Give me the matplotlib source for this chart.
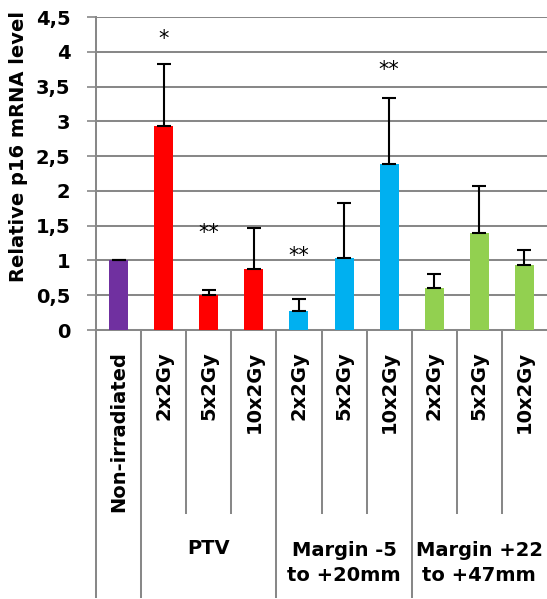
import matplotlib
matplotlib.use("Agg")
import matplotlib.pyplot as plt

# ---- data ----
categories = ["Non-irradiated", "2x2Gy", "5x2Gy", "10x2Gy", "2x2Gy", "5x2Gy", "10x2Gy", "2x2Gy", "5x2Gy", "10x2Gy"]
groups = ["PTV", "Margin -5\nto +20mm", "Margin +22\nto +47mm"]
group_members = [[1, 2, 3], [4, 5, 6], [7, 8, 9]]
values = [1.0, 2.93, 0.50, 0.88, 0.27, 1.03, 2.38, 0.60, 1.39, 0.93]
err_top = [1.0, 3.82, 0.57, 1.47, 0.45, 1.82, 3.34, 0.81, 2.07, 1.15]
colors = ["#7030A0", "#FF0000", "#FF0000", "#FF0000", "#00B0F0", "#00B0F0", "#00B0F0",
          "#92D050", "#92D050", "#92D050"]
stars = {1: "*", 2: "**", 4: "**", 6: "**"}
star_y = {1: 4.18, 2: 1.39, 4: 1.06, 6: 3.74}
yticks = [0, 0.5, 1, 1.5, 2, 2.5, 3, 3.5, 4, 4.5]
ytick_labels = ["0", "0,5", "1", "1,5", "2", "2,5", "3", "3,5", "4", "4,5"]
ylabel = "Relative p16 mRNA level"

FONT = ["DejaVu Sans"]
FS = 14
GRID = "#888888"
W, H = 547, 599

fig = plt.figure(figsize=(W / 100, H / 100), dpi=100)
x0, x1, ytop, ybot = 96, 547, 17, 330
ax = fig.add_axes([x0 / W, 1 - ybot / H, (x1 - x0) / W, (ybot - ytop) / H])

x = list(range(len(categories)))
ax.bar(x, values, width=0.42, color=colors, zorder=3)
lower = [0] * len(values)
upper = [t - v for t, v in zip(err_top, values)]
ax.errorbar(x, values, yerr=[lower, upper], fmt="none", ecolor="black",
            elinewidth=1.5, capsize=5, capthick=1.5, zorder=4)

for i, s in stars.items():
    ax.text(i, star_y[i], s, ha="center", va="center", fontsize=15,
            family=["DejaVu Sans"], zorder=5)

ax.set_xlim(-0.5, len(categories) - 0.5)
ax.set_ylim(0, 4.5)
ax.set_yticks(yticks)
ax.set_yticklabels(ytick_labels, fontsize=FS, fontweight="bold", family=FONT)
ax.set_axisbelow(True)
ax.yaxis.grid(True, color=GRID, linewidth=1.45)
for gl in ax.get_ygridlines():
    gl.set_zorder(0.5)
ax.tick_params(axis="y", length=6.5, width=1.2, color=GRID, pad=12)
for sp in ["top", "right"]:
    ax.spines[sp].set_visible(False)
ax.spines["left"].set_color(GRID)
ax.spines["left"].set_linewidth(1.45)
ax.spines["bottom"].set_color(GRID)
ax.spines["bottom"].set_linewidth(1.45)

ax.set_xticks(x)
ax.set_xticklabels(categories, rotation=90, fontsize=FS, fontweight="bold", family=FONT)
ax.tick_params(axis="x", length=0, pad=15)

ax.set_ylabel(ylabel, fontsize=FS, fontweight="bold", family=FONT)
ax.yaxis.set_label_coords(-(96 - 28) / (x1 - x0), (ybot - 147) / (ybot - ytop))

# multi-level axis lines
tr = ax.get_xaxis_transform()
axh = ybot - ytop
y_short = -(513 - ybot) / axh
y_long = -(597 - ybot) / axh
boundaries_long = [-0.5, 0.5, 3.5, 6.5]
boundaries_short = [1.5, 2.5, 4.5, 5.5, 7.5, 8.5]
for b in boundaries_long:
    ax.plot([b, b], [0, y_long], transform=tr, color=GRID, lw=1.45, clip_on=False)
for b in boundaries_short:
    ax.plot([b, b], [0, y_short], transform=tr, color=GRID, lw=1.45, clip_on=False)

for g, mem in zip(groups, group_members):
    cx = sum(mem) / len(mem)
    ytxt = -(549 - ybot) / axh if "\n" not in g else -(563 - ybot) / axh
    ax.text(cx, ytxt, g, transform=tr, ha="center", va="center", fontsize=FS,
            fontweight="bold", family=FONT, linespacing=1.35)

fig.savefig("out.png", dpi=100)
